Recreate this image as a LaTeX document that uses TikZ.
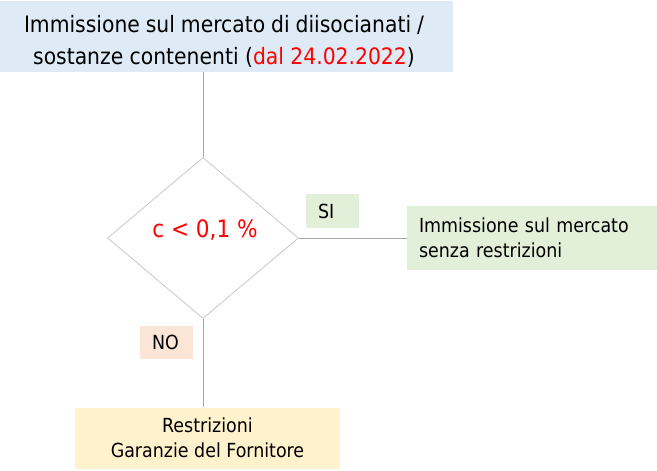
\documentclass[tikz,border=0pt]{standalone}
\usepackage{fontspec}
\setmainfont{DejaVu Sans Condensed}
\usetikzlibrary{shapes.geometric}
\definecolor{topblue}{HTML}{DEEBF7}
\definecolor{lgreen}{HTML}{E2F0D9}
\definecolor{lorange}{HTML}{FBE5D6}
\definecolor{lyellow}{HTML}{FFF2CC}
\definecolor{redtxt}{HTML}{FF0000}
\definecolor{linegray}{HTML}{A6A6A6}
\definecolor{diagray}{HTML}{C8C8C8}
\tikzset{
  box/.style={rectangle, inner sep=0pt, draw=none},
  conn/.style={draw=linegray, line width=0.9pt},
}
\begin{document}
\begin{tikzpicture}[x=1pt,y=-1pt]
\useasboundingbox (0,0) rectangle (657,471);
\node[box, fill=topblue, minimum width=453pt, minimum height=71pt] (top) at (226.5,36) {};
\node[inner sep=0pt, align=center, anchor=base, font=\fontsize{22.6}{32}\selectfont] (toptxt) at (224,64)
  {\makebox[400pt][s]{Immissione sul mercato di diisocianati /}\\sostanze contenenti (\textcolor{redtxt}{dal 24.02.2022})};
\node[diamond, draw=diagray, line width=0.8pt, minimum width=191pt, minimum height=161pt, inner sep=0pt] (dia) at (203,238) {};
\node[text=redtxt, font=\fontsize{24}{28}\selectfont] (cond) at (205,230) {c < 0,1 \%};
\node[box, fill=lgreen, minimum width=53pt, minimum height=34pt, text width=29pt, inner xsep=12pt, align=left,
  font=\fontsize{19.4}{22}\selectfont] (si) at (332.5,211) {SI};
\node[box, fill=lgreen, minimum width=250pt, minimum height=64pt, text width=226pt, inner xsep=12pt, align=left,
  font=\fontsize{19.4}{25}\selectfont] (right) at (532,238) {Immissione sul mercato\\senza restrizioni};
\node[box, fill=lorange, minimum width=53pt, minimum height=33pt, text width=29pt, inner xsep=12pt, align=left,
  font=\fontsize{19.4}{22}\selectfont] (no) at (166.5,342.5) {NO};
\node[box, fill=lyellow, minimum width=265pt, minimum height=61pt, align=center,
  font=\fontsize{19.4}{25}\selectfont] (bot) at (207.5,438) {Restrizioni\\Garanzie del Fornitore};
\draw[conn] (dia.north |- top.south) -- (dia.north);
\draw[conn] (dia.east) -- (right.west);
\draw[conn] (dia.south) -- (dia.south |- bot.north);
\end{tikzpicture}
\end{document}
